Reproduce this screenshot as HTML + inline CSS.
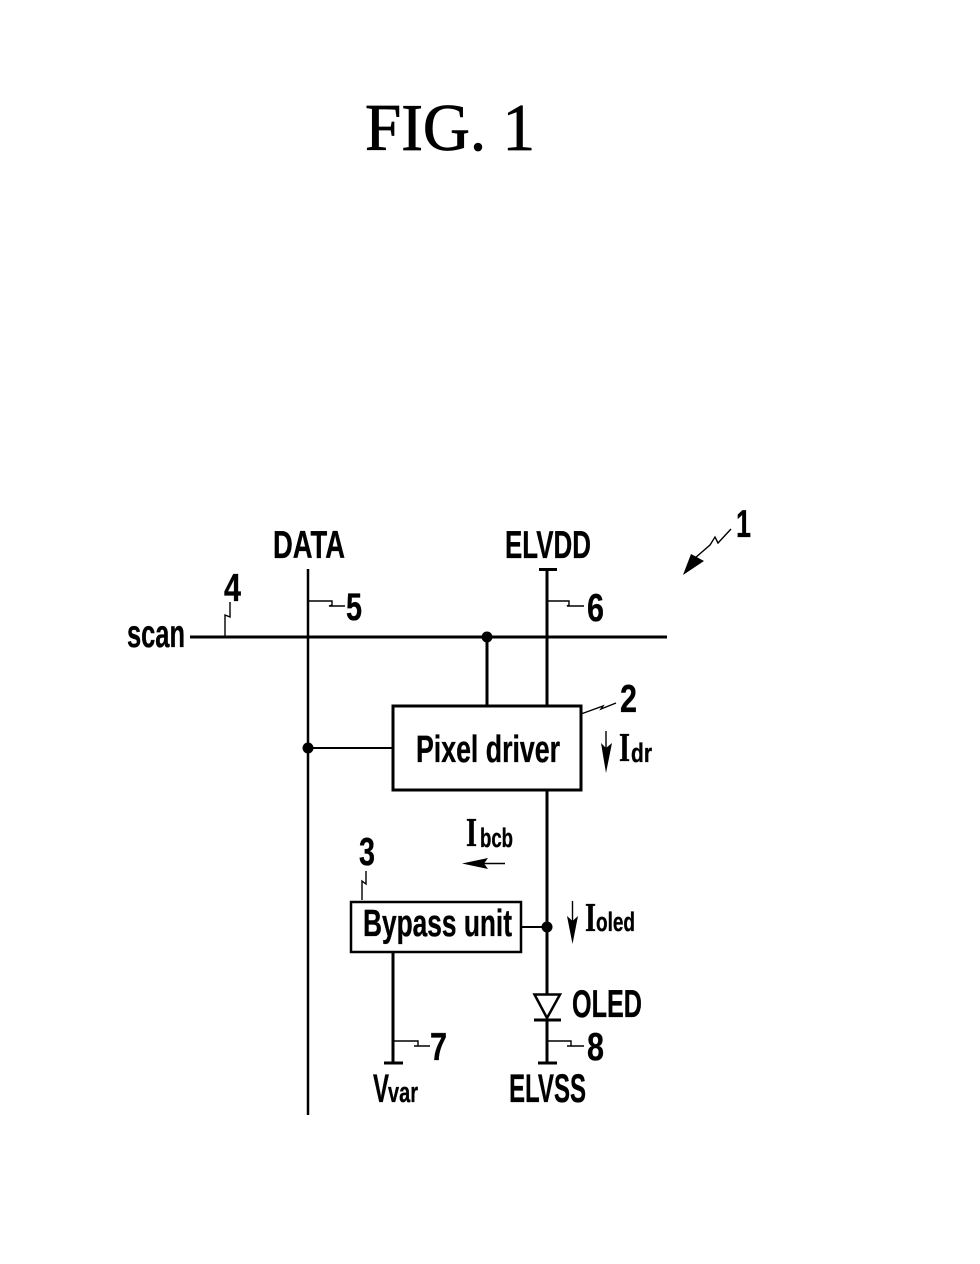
<!DOCTYPE html>
<html><head><meta charset="utf-8"><style>
html,body{margin:0;padding:0;background:#fff}
svg{display:block}
text{font-family:"Liberation Sans",sans-serif;font-weight:bold;fill:#000;stroke:#000;stroke-width:.35}
.s{font-family:"Liberation Serif",serif;font-weight:normal}
.l{fill:none;stroke:#000;stroke-width:1.4}
</style></head><body>
<svg width="980" height="1264" viewBox="0 0 980 1264" xmlns="http://www.w3.org/2000/svg">
<rect width="980" height="1264" fill="#fff"/>
<text class="s" x="365" y="150" font-size="67" textLength="170" lengthAdjust="spacingAndGlyphs" style="stroke-width:.8">FIG. 1</text>

<g stroke="#000" fill="none" stroke-width="3">
<path d="M190 637H667"/>
<path d="M308 569V1115" stroke-width="2.5"/>
<path d="M547 570V705M539 569.5H557"/>
<path d="M487 637V705"/>
<rect x="393" y="706" width="188" height="84"/>
<path d="M308 748H393" stroke-width="2"/>
<path d="M547 790V995"/>
<rect x="351" y="902" width="170" height="50" stroke-width="2.5"/>
<path d="M521 927H547" stroke-width="2"/>
<path d="M393 952V1063M384 1063H403"/>
<path d="M534.5 994.5H560L547 1018Z" stroke-width="2.5"/>
<path d="M534 1020H561M547 1020V1063M538 1063H557"/>
</g>
<circle cx="487" cy="637" r="5.5"/>
<circle cx="308" cy="748" r="5.5"/>
<circle cx="547" cy="927" r="5.5"/>

<path class="l" d="M225 637V615L230 617V602"/>
<path class="l" d="M308 601H332V605L329 606H345"/>
<path class="l" d="M547 601H569V605L567 606H584"/>
<path class="l" d="M581 714L603 706L601 709L616 703"/>
<path class="l" d="M362 900V881L366 884V871"/>
<path class="l" d="M393 1041H418V1046H414H430"/>
<path class="l" d="M547 1041H571V1046H567H584"/>

<path class="l" d="M731 529L718 543L715 537L710 545L695 558"/>
<path d="M683 575L691 554L704 561Z"/>

<path class="l" d="M606 731V760"/>
<path d="M606 773L601 743L606 748L612 743Z"/>
<path class="l" d="M505 863.5H470"/>
<path d="M462 863.5L488 858L484 863.5L488 869Z"/>
<path class="l" d="M572.5 901V930"/>
<path d="M572.5 944L567 916L572.5 921L578 916Z"/>

<text x="273" y="558" font-size="39" textLength="72" lengthAdjust="spacingAndGlyphs">DATA</text>
<text x="505" y="558" font-size="39" textLength="86" lengthAdjust="spacingAndGlyphs">ELVDD</text>
<text x="127" y="647" font-size="39" textLength="58" lengthAdjust="spacingAndGlyphs">scan</text>
<text x="416" y="762" font-size="38" textLength="144" lengthAdjust="spacingAndGlyphs">Pixel driver</text>
<text x="363" y="936" font-size="38" textLength="149" lengthAdjust="spacingAndGlyphs">Bypass unit</text>
<text x="572" y="1017" font-size="39" textLength="70" lengthAdjust="spacingAndGlyphs">OLED</text>
<text x="509" y="1102" font-size="40" textLength="77" lengthAdjust="spacingAndGlyphs">ELVSS</text>
<text x="373" y="1102" font-size="40" textLength="16" lengthAdjust="spacingAndGlyphs">V</text>
<text x="388" y="1102" font-size="29" textLength="30" lengthAdjust="spacingAndGlyphs">var</text>

<text x="224" y="601" font-size="39" textLength="17" lengthAdjust="spacingAndGlyphs">4</text>
<text x="346" y="620" font-size="39" textLength="16" lengthAdjust="spacingAndGlyphs">5</text>
<text x="587" y="621" font-size="39" textLength="17" lengthAdjust="spacingAndGlyphs">6</text>
<text x="736" y="537" font-size="39" textLength="15" lengthAdjust="spacingAndGlyphs">1</text>
<text x="620" y="712" font-size="39" textLength="17" lengthAdjust="spacingAndGlyphs">2</text>
<text x="359" y="865" font-size="39" textLength="16" lengthAdjust="spacingAndGlyphs">3</text>
<text x="430" y="1060" font-size="39" textLength="17" lengthAdjust="spacingAndGlyphs">7</text>
<text x="587" y="1060" font-size="39" textLength="17" lengthAdjust="spacingAndGlyphs">8</text>

<text class="s" x="619" y="761" font-size="41" textLength="11" lengthAdjust="spacingAndGlyphs" style="font-weight:bold">I</text>
<text x="631" y="762" font-size="27" textLength="21" lengthAdjust="spacingAndGlyphs">dr</text>
<text class="s" x="466" y="846" font-size="41" textLength="11" lengthAdjust="spacingAndGlyphs" style="font-weight:bold">I</text>
<text x="480" y="847" font-size="27" textLength="33" lengthAdjust="spacingAndGlyphs">bcb</text>
<text class="s" x="585" y="931" font-size="41" textLength="11" lengthAdjust="spacingAndGlyphs" style="font-weight:bold">I</text>
<text x="596" y="931" font-size="27" textLength="39" lengthAdjust="spacingAndGlyphs">oled</text>
</svg>
</body></html>
